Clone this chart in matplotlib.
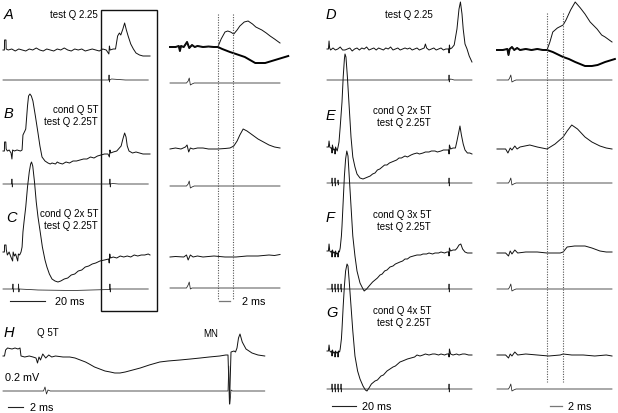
import numpy as np
import matplotlib
matplotlib.use("Agg")
import matplotlib.pyplot as plt
from matplotlib.transforms import Affine2D

plt.rcParams['font.family'] = ['Liberation Sans', 'DejaVu Sans']

# ---------------- data: (time in ms, amplitude in a.u., upward positive) ----------------
# slow sweeps, left column (A, B, C)
A_slow = [(0,0),(0.8,0),(0.9,10),(1.7,10),(1.8,1),(3,0),(5,1),(7,-1),(9,1),(11,0),(13,-1),(15,1),(17,0),(19,2),
          (21,0),(23,-1),(25,1),(27,0),(29,-1),(31,1),(33,0),(35,2),(37,0),(39,-1),(41,1),(43,0),(45,1),(47,-1),
          (49,0),(51,1),(53,0),(55,-1),(57,1),(59,0),(60.5,-4),(60.8,4),(61.2,0),(63,1),(64.3,1),(65.5,14),
          (66.5,17),(67.3,15),(68.5,21),(69.5,27),(70.5,20),(71.5,14),(73,6),(74.5,1),(76,-3),(78,-5),(80,-6),
          (82,-6),(84,-6)]
A_slow_stim = [(0,0),(60.4,0),(60.6,5),(60.8,-2),(61.0,0),(62,1),(66,0.5),(70,0),(83,0)]

B_slow = [(0,0),(0.8,0),(0.9,9),(1.6,9),(1.8,2),(2.5,0),(3.5,1),(4.6,-2),(5.1,-8),(5.5,1),(6.5,0),(8,1),(10,0),
          (10.9,1),(11.4,16),(12.5,20),(13,22),(14,45),(14.6,55),(15.4,57),(16.2,55),(17.1,50),(18.5,35),(20,18),
          (21.1,5),(22.3,-6),(24,-10),(25.7,-12),(27,-13),(28,-12),(30,-13),(31,-11),(32,-12),(34,-13),(36,-11),
          (38,-12),(40,-10),(42,-10),(44,-9),(46,-8),(48,-8),(50,-6),(52,-7),(54,-5),(56,-4),(58,-3),(60,-3),
          (60.8,-6),(61.1,1),(61.5,-2),(63,-1),(65,0),(67.5,5),(68.5,12),(69.5,18),(70.3,14),(71,5),(72,0),
          (74,-2),(76,-1),(78,-2),(80,-3),(82,-3),(84,-3)]
B_slow_stim = [(0,0),(5.0,0),(5.1,5),(5.3,-3),(5.5,0),(61.0,0),(61.1,5),(61.3,-3),(61.5,0),(62.5,0.5),(66,0),(83,0)]

C_slow = [(0,0),(0.8,0),(0.9,7),(1.7,7),(1.9,2),(2.5,-3),(3.5,0),(4.3,-4),(5.5,-9),(5.8,0),(6.5,-4),(7.2,-2),
          (8.4,-9),(8.8,-2),(9.5,-3),(10.3,0),(10.9,5),(11.4,20),(12,30),(13,45),(14,65),(15,80),(15.8,88),
          (16.3,90),(17,86),(18,70),(19,50),(20,35),(21.1,22),(22.5,5),(24,-8),(25.1,-15),(26.5,-22),(28,-27),
          (29.7,-29),(31.4,-30),(33,-29),(35,-27),(37,-26),(39,-23),(41,-22),(43,-19),(45,-18),(47,-15),(49,-14),
          (51,-12),(53,-11),(55.4,-9),(58,-8),(60.4,-7),(60.7,-11),(61.0,-2),(61.4,-6),(63,-5),(65,-6),(67,-4),
          (69,-5),(71,-4),(73,-5),(75,-3),(77,-4),(79,-3),(81,-3),(83,-2),(84,-3)]
C_slow_stim = [(0,0),(5.5,0),(5.7,5),(5.9,-3),(6.1,0),(8.7,0),(8.9,5),(9.1,-3),(9.3,0),(20,-1),(40,-1.5),
               (61.0,-0.5),(61.1,5),(61.3,-3),(61.5,0),(83,0)]

# expanded sweeps, left column
A_mid_pre = [(0,0),(1,0),(1.6,1),(1.8,-4),(2.0,1),(2.5,0),(3.1,5),(3.5,-1),(4,2),(4.5,0),(5,1),(6,0),(7,0.5),(8,0),(8.7,0)]
A_mid_test = [(9.3,8),(10,15),(10.5,16),(11,15),(11.6,13),(12.2,17),(12.7,21),(13.5,25),(14.2,26),(15,23),
              (15.6,20),(16.7,17),(17.5,14),(18.2,11),(19,8),(20,4)]
A_mid_ctrl = [(9.5,-2),(10.9,-5),(12,-7),(13.6,-10),(15.5,-16),(17.3,-16),(19.1,-13),(21.5,-9)]
mid_stim_L = [(0,0),(3.0,0),(3.3,2),(3.5,5),(3.7,-2),(4.0,-1),(4.4,0),(20,0)]
B_mid = [(0,0),(1,1),(2,0),(2.8,2),(3.1,4),(3.4,-3),(3.7,1),(4.2,0),(5,1),(6,1),(7,0),(8.7,0),(10,0.5),(10.9,1),
         (11.6,3),(12.2,8),(12.7,14),(13.3,20),(14,18),(15,14),(16,10),(17,7),(18,4),(19,2),(20,1)]
C_mid = [(0,0),(1,0.5),(2.5,0),(3,2),(3.3,-3),(3.7,2),(4.2,0),(5,1),(6,0),(8,1),(10,0),(12,0),(14,1),(16,1),
         (18,2),(19,1.5),(20,2.5)]
C_mid_stim = [(0,0),(3.0,0),(3.3,3),(3.5,6),(3.7,-1),(4.0,0),(20,0)]

# slow sweeps, right column (D, E, F, G)
D_slow = [(0,0),(1.2,0),(1.7,8),(2.2,1),(3,-1),(5,1),(7,-1),(9,0),(11,2),(13,-1),(15,-1),(17,0),(19,1),(21,-2),
          (23,0),(25,1),(27,-1),(29,1),(31,0),(33,2),(35,-1),(37,0),(39,1),(41,-1),(43,1),(45,0),(47,-1),(49,1),
          (51,0),(53,2),(55,-1),(57,0),(59,1),(61,-1),(63,0),(65,1),(67,0),(69,1),(71,-1),(73,0),(75,1),(77,-1),
          (79,0),(81,1),(82,5),(83,1),(85,-1),(87,0),(89,1),(91,-1),(93,0),(95,1),(97,-1),(99,0),(101.5,0),
          (101.7,-4),(102,4),(102.5,0),(104,1),(106,4),(108.3,20),(110,40),(111.2,47),(112.5,35),(113.5,20),
          (115,5),(116.7,0),(118.5,-7),(120.8,-13)]
D_slow_stim = [(0,0),(101.5,0),(101.7,5),(101.9,-2),(102.1,0),(103,1),(106,0),(120.8,0)]

E_slow = [(0,0),(1.2,0),(1.7,6),(2.3,0),(3,-1),(4.0,-1),(4.2,-6),(4.5,2),(5.5,-3),(6.5,-2),(6.7,-7),(7.1,0),
          (8.5,-4),(9.2,0),(10,5),(11,20),(12.5,45),(13.5,70),(14.5,88),(15,93),(15.8,90),(17,70),(18.5,40),
          (20,10),(21.5,-10),(23.3,-20),(25,-27),(27.5,-31),(30,-32),(32,-31),(34,-30),(36,-29),(38,-27),(40,-26),
          (42,-23),(44,-22),(46,-20),(48,-18),(50,-18),(52,-16),(54,-15),(56,-14),(58,-13),(60,-11),(62,-11),
          (65,-9),(67,-10),(70,-8),(72,-7),(75,-6),(77,-7),(80,-6),(82,-5),(85,-5),(87,-4),(90,-4),(92,-5),
          (95,-4),(97,-3),(100,-3),(101.5,-3),(101.7,-7),(102,2),(103,-2),(105,-1),(107,-1),(108.3,6),(110,16),
          (110.8,21),(112,12),(113.5,3),(115,-3),(117,-6),(119,-6),(120.8,-7)]
E_slow_stim = [(0,0),(4.0,0),(4.2,5),(4.4,-3),(4.6,0),(6.5,0),(6.7,5),(6.9,-3),(7.1,0),(9.0,0),(9.2,3),(9.4,-2),
               (9.6,0),(101.5,0),(101.7,5),(101.9,-3),(102.1,0),(120.8,0)]

F_slow = [(0,0),(1.2,0),(1.7,7),(2.3,0),(3,-1),(4.0,0),(4.2,-6),(4.5,1),(5.5,-2),(6.5,-1),(6.7,-6),(7.1,0),(8,-3),
          (9.0,-2),(9.2,-6),(9.6,0),(10.3,-1),(11,3),(12,15),(12.5,25),(13.5,50),(14.5,75),(15.5,92),(16.5,100),
          (17.5,95),(18.5,75),(20,45),(21.5,15),(23.3,-5),(25,-20),(27.5,-32),(30,-38),(31,-40),(33,-38),
          (35.8,-34),(38,-31),(40,-29),(42,-27),(44.2,-24),(46,-23),(48,-20),(50,-19),(52.5,-16),(55,-15),
          (57,-13),(60.8,-11),(63,-10),(65,-8),(67,-8),(69.2,-6),(72,-5),(75,-4),(78,-4),(80,-3),(83,-3),
          (85,-2),(88,-3),(90,-2),(93,-2),(95,-1),(98,-2),(100,-1),(101.5,-1),(101.7,-5),(102,3),(103,0),(105,1),
          (107,1),(108.5,3),(110,6),(111.5,7),(113,2),(115,-1),(117,-2),(120.8,-2)]

G_slow = [(0,0),(1.2,0),(1.7,6),(2.3,0),(3,-1),(4.0,0),(4.2,-5),(4.5,1),(5.5,-2),(6.5,-1),(6.7,-6),(7.1,0),(8,-2),
          (9.0,-1),(9.2,-6),(9.6,0),(10.5,-1),(11,2),(12,12),(12.5,22),(13.5,45),(14.5,65),(15.5,80),(16.7,87),
          (17.5,85),(18.5,70),(20,45),(21.5,20),(23.3,-5),(25.5,-20),(27.5,-28),(30,-35),(32,-39),(33.3,-40),
          (35,-37),(37,-33),(40,-30),(42,-29),(45,-25),(47,-24),(50,-20),(52.5,-18),(55,-16),(57,-15),
          (60.8,-11),(63,-10),(65,-9),(67,-8),(70,-7),(73,-6),(75,-4),(77.5,-5),(80,-4),(82,-3),(85,-4),(88,-3),
          (90,-3),(93,-4),(95,-3),(98,-4),(100,-3),(101.5,-3),(101.7,-6),(102,2),(103,-3),(105,-4),(108,-3),
          (110,-4),(113,-3),(115,-3),(118,-4),(120.8,-4)]
cond4_stim = [(0,0),(4.0,0),(4.2,5),(4.4,-3),(4.6,0),(6.5,0),(6.7,5),(6.9,-3),(7.1,0),(9.0,0),(9.2,5),(9.4,-3),
              (9.6,0),(11.5,0),(11.7,5),(11.9,-3),(12.1,0),(101.5,0),(101.7,5),(101.9,-3),(102.1,0),(120.8,0)]

# expanded sweeps, right column
D_mid_pre = [(0,0),(1,0),(1.8,1),(2.0,-5),(2.2,1),(2.6,3),(3,0),(3.5,2),(4,0),(5,1),(6,0),(7,1),(8,0),(8.7,0)]
D_mid_test = [(9.2,8),(9.7,18),(10.5,22),(11.5,25),(12,30),(12.8,40),(13.6,48),(14.5,42),(15.3,36),(16.2,28),
              (17.4,21),(18.2,15),(18.8,13),(20,8)]
D_mid_ctrl = [(9.7,-2),(11.5,-7),(12.5,-9),(13.6,-12),(15.3,-16),(16.5,-16),(17.5,-15),(18.8,-12),(20.5,-9)]
mid_stim_R = [(0,0),(2.0,0),(2.2,2),(2.4,5),(2.6,-2),(2.9,-1),(3.3,0),(20,0)]
E_mid = [(0,0),(1.5,0),(1.9,-4),(2.3,1),(2.6,-1),(3.1,3),(3.5,0),(4,2),(5.7,4),(7,2),(8.7,0),(10.1,5),(11.5,12),
         (12.2,18),(13,24),(14,20),(15.3,12),(16.5,7),(17.9,3),(19,1),(20,0)]
F_mid = [(0,0),(1.5,0),(2.0,-3),(2.3,2),(2.6,-1),(3.1,3),(3.6,0),(5,1),(7,1),(8.7,0),(11,0),(11.5,1),(12.2,6),
         (13.5,7),(15.3,7),(16.5,5),(17.9,2),(19,1),(20,1)]
G_mid = [(0,0),(1.5,0),(2,-3),(2.3,1),(2.6,-1),(3.1,3),(3.6,0),(5,1),(7,0),(9,-1),(11,0),(11.5,1),(13,0),(15,0),
         (17,-1),(19,0),(20,-1)]

# panel H
H_trace = [(0,0),(0.2,0),(0.35,6),(0.6,8),(1.2,7),(1.6,8),(2.0,7),(2.27,8),(2.4,0),(2.9,-1),(3.5,0),(4.0,-1),
           (4.4,-2),(4.6,-7),(4.8,-1),(5.0,-4),(5.3,2),(5.7,-2),(6.1,1),(6.5,-1),(7,0),(8,-1),(8.9,-1),(9.6,-2),
           (10.3,-4),(11,-6),(11.5,-8),(12.2,-11),(12.9,-13),(13.6,-15),(14.3,-16),(14.9,-17),(15.6,-17),
           (16.3,-16),(17.3,-14),(18.3,-12),(19.5,-9),(20.9,-6),(22,-5),(23.6,-4),(25,-3),(26.3,-2),(27.5,-1),
           (28.9,0),(29.7,1),(30.0,1),(30.2,-48),(30.4,4),(30.8,5),(31.0,4),(31.2,8),(31.4,18),(31.6,22),
           (31.9,14),(32.4,7),(33.2,3),(34,1),(34.9,0)]
H_stim = [(0,0),(5.4,0),(5.6,4),(5.8,-3),(6.0,1),(6.3,0),(30.0,0),(30.1,25),(30.25,-13),(30.4,1),(30.6,0),(34.9,0)]

window_ms = [8.7, 11.5]   # dotted time-window markers in expanded sweeps

# ---------------- layout (pixels) ----------------
W, H = 618, 414
fig = plt.figure(figsize=(W / 100, H / 100), dpi=100)
ax = fig.add_axes([0, 0, 1, 1])
ax.set_xlim(0, W)
ax.set_ylim(H, 0)
ax.axis('off')

SL = (3, 1.75)     # left slow sweep: x origin, px per ms
ML = (170, 5.5)    # left expanded sweep
SR = (327, 1.2)    # right slow sweep
MR = (497, 5.75)   # right expanded sweep
HC = (3, 7.5)      # panel H


def tr(col, y0):
    x0, sx = col
    return Affine2D().scale(sx, -1).translate(x0, y0) + ax.transData


def trace(data, col, y0, lw=0.7, color='#111111'):
    a = np.asarray(data, dtype=float)
    ax.plot(a[:, 0], a[:, 1], transform=tr(col, y0), lw=lw, color=color,
            solid_joinstyle='round')


stim_kw = dict(lw=0.55, color='#222222')

# left column
trace(A_slow, SL, 51); trace(A_slow_stim, SL, 81, **stim_kw)
trace(B_slow, SL, 152); trace(B_slow_stim, SL, 185, **stim_kw)
trace(C_slow, SL, 253); trace(C_slow_stim, SL, 290, **stim_kw)

trace(A_mid_pre + A_mid_ctrl, ML, 48, lw=1.4, color='#000000')
trace(A_mid_pre + A_mid_test, ML, 48, lw=0.7)
trace(mid_stim_L, ML, 84, **stim_kw)
trace(B_mid, ML, 150); trace(mid_stim_L, ML, 187, **stim_kw)
trace(C_mid, ML, 258); trace(C_mid_stim, ML, 289, **stim_kw)

# right column
trace(D_slow, SR, 50); trace(D_slow_stim, SR, 81, **stim_kw)
trace(E_slow, SR, 148); trace(E_slow_stim, SR, 184, **stim_kw)
trace(F_slow, SR, 252); trace(cond4_stim, SR, 290, **stim_kw)
trace(G_slow, SR, 352); trace(cond4_stim, SR, 390, **stim_kw)

trace(D_mid_pre + D_mid_ctrl, MR, 51, lw=1.4, color='#000000')
trace(D_mid_pre + D_mid_test, MR, 51, lw=0.7)
trace(mid_stim_R, MR, 81, **stim_kw)
trace(E_mid, MR, 150); trace(mid_stim_R, MR, 184, **stim_kw)
trace(F_mid, MR, 254); trace(mid_stim_R, MR, 290, **stim_kw)
trace(G_mid, MR, 356); trace(mid_stim_R, MR, 390, **stim_kw)

# panel H
trace(H_trace, HC, 357); trace(H_stim, HC, 392, **stim_kw)

# dotted window markers
for t in window_ms:
    x = ML[0] + ML[1] * t
    ax.plot([x, x], [15, 300], color='#555555', lw=0.8, ls=(0, (1, 1.3)))
    x = MR[0] + MR[1] * t
    ax.plot([x, x], [14, 383], color='#555555', lw=0.8, ls=(0, (1, 1.3)))

# box around test response
ax.add_patch(plt.Rectangle((101, 11), 56, 301, fill=False, lw=1.0, ec='#111111'))

# scale bars
ax.plot([0, 20], [0, 0], transform=tr((10, 1.75), 302), color='#222222', lw=0.8)
ax.plot([0, 2], [0, 0], transform=tr((219, 5.5), 302), color='#777777', lw=0.9)
ax.plot([0, 2], [0, 0], transform=tr((8, 7.5), 408), color='#222222', lw=0.8)
ax.plot([0, 20], [0, 0], transform=tr((332, 1.2), 407), color='#222222', lw=0.8)
ax.plot([0, 2], [0, 0], transform=tr((550, 5.75), 407), color='#777777', lw=0.9)

sfs = 7.8
ax.text(55, 302, '20 ms', fontsize=sfs, va='center', ha='left')
ax.text(242, 302, '2 ms', fontsize=sfs, va='center', ha='left')
ax.text(30, 408, '2 ms', fontsize=sfs, va='center', ha='left')
ax.text(362, 407, '20 ms', fontsize=sfs, va='center', ha='left')
ax.text(568, 407, '2 ms', fontsize=sfs, va='center', ha='left')
ax.text(5, 378, '0.2 mV', fontsize=sfs, va='center', ha='left')

# panel labels
for lab, x, y in [('A', 4, 15), ('B', 4, 114), ('C', 6, 218), ('D', 326, 15), ('E', 326, 116),
                  ('F', 326, 218), ('G', 326, 313), ('H', 4, 333)]:
    ax.text(x, y, lab, fontsize=10.5, style='italic', va='center', ha='left')

# annotations
afs = 7
ax.text(98, 15, 'test Q 2.25', fontsize=afs, va='center', ha='right')
ax.text(98, 116, 'cond Q 5T\ntest Q 2.25T', fontsize=afs, va='center', ha='right', multialignment='right', linespacing=1.35)
ax.text(98, 220, 'cond Q 2x 5T\ntest Q 2.25T', fontsize=afs, va='center', ha='right', multialignment='right', linespacing=1.35)
ax.text(385, 15, 'test Q 2.25', fontsize=afs, va='center', ha='left')
ax.text(431, 117, 'cond Q 2x 5T\ntest Q 2.25T', fontsize=afs, va='center', ha='right', multialignment='right', linespacing=1.35)
ax.text(431, 221, 'cond Q 3x 5T\ntest Q 2.25T', fontsize=afs, va='center', ha='right', multialignment='right', linespacing=1.35)
ax.text(431, 317, 'cond Q 4x 5T\ntest Q 2.25T', fontsize=afs, va='center', ha='right', multialignment='right', linespacing=1.35)
ax.text(37, 333, 'Q 5T', fontsize=afs, va='center', ha='left')
ax.text(203, 334, 'MN', fontsize=afs, va='center', ha='left')

fig.savefig('out.png', dpi=100, facecolor='white')
